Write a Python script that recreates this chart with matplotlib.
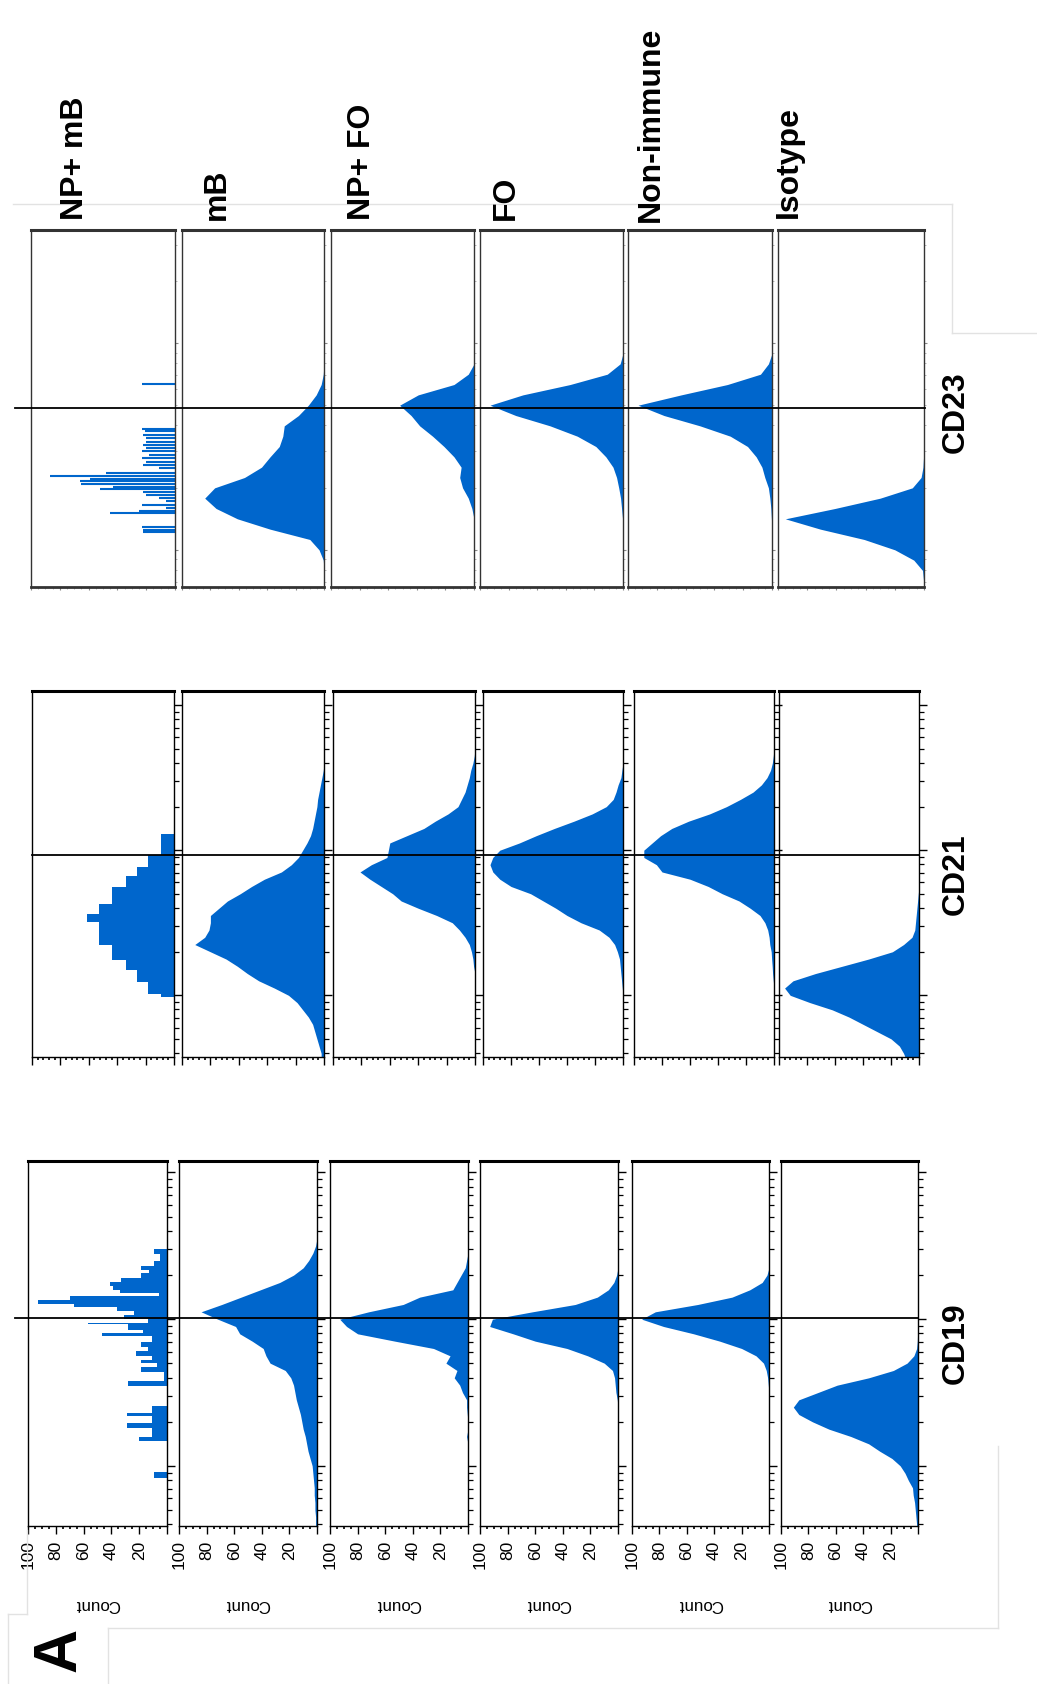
import numpy as np
import matplotlib
matplotlib.use("Agg")
import matplotlib.pyplot as plt
from matplotlib.lines import Line2D
from matplotlib.ticker import MultipleLocator, LogLocator, NullFormatter
from matplotlib.transforms import blended_transform_factory

plt.rcParams["font.family"] = ["Liberation Sans", "DejaVu Sans"]

BLUE = "#0066cc"
W, H = 1037, 1684

populations = ["NP+ mB", "mB", "NP+ FO", "FO", "Non-immune", "Isotype"]
markers = ["CD23", "CD21", "CD19"]

# log10 fluorescence bin centres (per row)
bins_cd19 = np.round(np.arange(1.55, 4.101, 0.05), 2)
bins_cd21 = np.round(np.arange(1.55, 4.101, 0.05), 2)
bins_cd23 = np.round(np.arange(1.80, 3.551, 0.05), 2)

# gate (threshold) per marker, fluorescence units
gate_cd19 = 1020
gate_cd21 = 930
gate_cd23 = 485

# ---- CD19 counts (start at bins_cd19[0]) ----
cd19_npmb_edges = [1.916, 1.957, 2.169, 2.198, 2.260, 2.289, 2.337, 2.361, 2.410, 2.542,
                   2.578, 2.639, 2.675, 2.699, 2.723, 2.747, 2.783, 2.807, 2.843, 2.884,
                   2.904, 2.928, 2.964, 2.976, 3.000, 3.031, 3.055, 3.084, 3.104, 3.128,
                   3.161, 3.181, 3.200, 3.229, 3.253, 3.282, 3.313, 3.337, 3.361, 3.393,
                   3.446, 3.475]
cd19_npmb = [9, 0, 20, 11, 29, 11, 29, 11, 0, 28,
             2, 19, 7, 19, 11, 22, 14, 19, 11, 47,
             17, 28, 57, 14, 31, 24, 36, 67, 93, 70,
             6, 34, 39, 41, 33, 19, 13, 19, 9, 5, 9]
cd19_mb = [1, 1, 1, 1.5, 1.5, 2, 2, 2.5, 3, 3.5, 5, 6.5, 7.5, 8.5, 10, 11, 12, 13.5, 15, 16,
           17, 19, 23, 34, 37, 39, 47, 56, 59, 72, 84, 69, 55, 41, 27, 17, 10, 6, 3, 1]
cd19_npfo = [0] * 13 + [1, 0, 0, 0.5, 1, 1, 4, 6, 10, 8, 16, 13, 25, 53, 80, 88, 93, 72, 47,
                        35, 11, 8, 5, 2, 1]
cd19_fo = [0] * 17 + [0, 0.5, 1.5, 2, 2.5, 4, 10, 22, 37, 60, 76, 93, 91, 62, 31, 15, 7, 3, 1]
cd19_nonimm = [0] * 19 + [0, 0.5, 1, 2, 4, 9.5, 20, 36, 55, 77, 93, 83, 52, 27, 14, 5, 1.5]
cd19_iso = [1, 1, 1.5, 2, 2.5, 3.5, 4, 7, 9.5, 13, 19, 28, 36, 49, 65, 77, 87, 91, 87, 73,
            59, 36, 18, 8, 3, 1, 0.5, 0.3, 0.3, 0.3]

# ---- CD21 counts ----
cd21_npmb_edges = [1.99, 2.011, 2.092, 2.172, 2.246, 2.345, 2.506, 2.563, 2.632, 2.747,
                   2.821, 2.885, 2.969, 3.110]
cd21_npmb = [9, 18, 26, 34, 44, 53, 61, 53, 44, 34, 26, 18, 9]
cd21_mb = [2, 2, 3.5, 5, 6.5, 8, 11, 15, 19, 25, 35, 46, 54, 61, 69, 80, 91, 84, 81, 80,
           80, 74, 68, 59, 51, 42, 30, 23, 18, 15, 12, 9.5, 8, 7, 6, 5, 4.5, 3.5, 2.5, 1.5, 0.5]
cd21_npfo = [0] * 13 + [1, 1.5, 2.5, 4, 7, 11, 16, 27, 40, 52, 58, 66, 74, 81, 73, 62, 61,
                        60, 48, 36, 28, 19, 12, 9.5, 7, 5.5, 4, 3, 1.5, 0.5]
cd21_fo = [0] * 10 + [0.5, 1, 1.5, 2, 2.5, 4, 6, 10, 17, 30, 40, 48, 57, 66, 80, 88, 93, 95,
                      93, 88, 74, 62, 49, 35, 22, 12, 7, 5, 3.5, 1.5, 0.8]
cd21_nonimm = [0] * 11 + [0.5, 1, 1.3, 1.7, 2, 3, 3.5, 4.5, 6.5, 10, 17, 25, 37, 47, 60, 80,
                          84, 93, 93, 87, 81, 73, 61, 46, 34, 24, 15, 9, 5, 2.5, 1.2, 0.5]
cd21_iso = [9, 11, 14, 20, 30, 40, 50, 62, 78, 92, 96, 90, 74, 55, 36, 19, 11, 5, 3, 2.5,
            2, 1.5, 1, 0.5]

# ---- CD23 counts ----
cd23_npmb_pos = [2.085, 2.097, 2.110, 2.176, 2.187, 2.203, 2.219, 2.234, 2.250, 2.265,
                 2.279, 2.294, 2.306, 2.319, 2.332, 2.345, 2.358, 2.371, 2.394, 2.411,
                 2.426, 2.442, 2.460, 2.476, 2.492, 2.508, 2.524, 2.542, 2.558, 2.573,
                 2.587, 2.802]
cd23_npmb = [22, 22, 23, 45, 25, 6, 23, 6, 11, 20,
             22, 52, 43, 65, 66, 59, 87, 48, 11, 22,
             20, 23, 18, 23, 20, 22, 20, 20, 22, 21,
             23, 23]
cd23_mb = [0, 0, 0, 0.5, 3.5, 10, 38, 61, 76, 84, 77, 56, 44, 38, 31.5, 29, 28, 18, 11, 5.5,
           2, 0.5]
cd23_npfo = [0] * 8 + [1.5, 4, 8, 10, 9, 14, 21, 29, 38, 44, 52, 39, 14, 4]
cd23_fo = [0] * 7 + [0.3, 1, 1.7, 3, 4.5, 7, 12, 19, 32, 51, 75, 93, 70, 37, 11, 2]
cd23_nonimm = [0] * 7 + [0.4, 0.8, 1.5, 2.5, 5, 7, 11, 17, 29, 50, 75, 93, 63, 31, 8, 2.5]
cd23_iso = [0, 0.3, 1, 7, 20, 41, 71, 95, 61, 30, 8, 2, 0.7, 0.3]

# ---- layout (pixels in the 1037x1684 picture) ----
rows = {
    "CD23": dict(top=230, bottom=587, ylim=(1.82, 3.548), gate=gate_cd23, bins=bins_cd23,
                 xs=[(31, 175), (182, 324), (331, 474), (480, 623), (628, 772), (778, 924)],
                 line=(15, 925), label_y=412, style="light",
                 data=[None, cd23_mb, cd23_npfo, cd23_fo, cd23_nonimm, cd23_iso]),
    "CD21": dict(top=691, bottom=1057, ylim=(1.575, 4.097), gate=gate_cd21, bins=bins_cd21,
                 xs=[(32, 174), (182, 324), (333, 475), (483, 623), (634, 774), (779, 919)],
                 line=(32, 919), label_y=874, style="mid",
                 data=[None, cd21_mb, cd21_npfo, cd21_fo, cd21_nonimm, cd21_iso]),
    "CD19": dict(top=1161, bottom=1526, ylim=(1.59, 4.078), gate=gate_cd19, bins=bins_cd19,
                 xs=[(28, 167), (179, 317), (330, 468), (480, 618), (632, 769), (781, 918)],
                 line=(15, 918), label_y=1343, style="full",
                 data=[None, cd19_mb, cd19_npfo, cd19_fo, cd19_nonimm, cd19_iso]),
}

fig = plt.figure(figsize=(W / 100, H / 100), dpi=100)
fig.patch.set_facecolor("white")


def px_axes(x0, y0, x1, y1):
    return fig.add_axes([x0 / W, 1 - y1 / H, (x1 - x0) / W, (y1 - y0) / H])


def fig_line(x0, y0, x1, y1, **kw):
    fig.add_artist(Line2D([x0 / W, x1 / W], [1 - y0 / H, 1 - y1 / H],
                          transform=fig.transFigure, **kw))


for marker in markers:
    r = rows[marker]
    axes = []
    for i, (x0, x1) in enumerate(r["xs"]):
        ax = px_axes(x0, r["top"], x1, r["bottom"])
        axes.append(ax)
        ax.set_yscale("log")
        ax.set_xlim(100, 0)
        ax.set_ylim(10 ** r["ylim"][0], 10 ** r["ylim"][1])

        vals = r["data"][i]
        if vals is not None:
            c = np.zeros(len(r["bins"]))
            c[:len(vals)] = vals
            ax.fill_betweenx(10 ** r["bins"], c, 0, color=BLUE, lw=0)
        elif marker == "CD19":
            ax.stairs(cd19_npmb, 10 ** np.array(cd19_npmb_edges), orientation="horizontal",
                      fill=True, color=BLUE, baseline=0)
        elif marker == "CD21":
            ax.stairs(cd21_npmb, 10 ** np.array(cd21_npmb_edges), orientation="horizontal",
                      fill=True, color=BLUE, baseline=0)
        else:
            ax.hlines(10 ** np.array(cd23_npmb_pos), 0, cd23_npmb, color=BLUE, lw=1.5)

        # fluorescence axis on the right
        ax.yaxis.tick_right()
        ax.yaxis.set_major_locator(LogLocator(base=10, numticks=20))
        ax.yaxis.set_minor_locator(LogLocator(base=10, subs=np.arange(2, 10), numticks=20))
        ax.yaxis.set_major_formatter(NullFormatter())
        ax.yaxis.set_minor_formatter(NullFormatter())

        # count axis at the bottom
        ax.xaxis.set_major_locator(MultipleLocator(20))
        ax.xaxis.set_minor_locator(MultipleLocator(4 if marker == "CD21" else 5))

        for s in ax.spines.values():
            s.set_linewidth(1.0)
        ax.spines["top"].set_linewidth(2.2)

        if r["style"] == "light":
            ax.tick_params(axis="both", which="major", direction="out", length=2.5,
                           width=0.8, color="#888888")
            ax.tick_params(axis="both", which="minor", direction="out", length=1.5,
                           width=0.6, color="#aaaaaa")
            ax.tick_params(axis="x", labelbottom=False)
            for s in ax.spines.values():
                s.set_edgecolor("#333333")
            ax.spines["bottom"].set_linewidth(2.0)
        else:
            ax.tick_params(axis="y", which="major", direction="out", length=6, width=1.0)
            ax.tick_params(axis="y", which="minor", direction="out", length=3.5, width=0.9)
            ax.tick_params(axis="x", which="major", direction="out", length=5.8, width=1.0)
            ax.tick_params(axis="x", which="minor", direction="out", length=1.8, width=1.2)
            if r["style"] == "full":
                ax.set_xticks([0, 20, 40, 60, 80, 100])
                ax.set_xticklabels(["", "20", "40", "60", "80", "100"], rotation=90,
                                   fontsize=12.5)
                ax.tick_params(axis="x", pad=4.5)
                ax.set_xlabel("Count", rotation=180, fontsize=12.2)
                ax.xaxis.set_label_coords(0.5, -(1605 - r["bottom"]) / (r["bottom"] - r["top"]))
                ax.xaxis.label.set_va("center")
            else:
                ax.tick_params(axis="x", labelbottom=False)
        ax.set_facecolor("none")

    # gate line across the row
    trans = blended_transform_factory(fig.transFigure, axes[0].transData)
    fig.add_artist(Line2D([r["line"][0] / W, r["line"][1] / W], [r["gate"], r["gate"]],
                          transform=trans, color="black", lw=1.3, zorder=5))

    fig.text(956 / W, 1 - r["label_y"] / H, marker, rotation=90, ha="center", va="center",
             fontsize=23, fontweight="bold")

# population headers above the top row
header_x = [83, 225, 370, 514, 659, 797]
header_y = [220, 220, 220, 220, 222, 218]
for name, hx, hy in zip(populations, header_x, header_y):
    fig.text(hx / W, 1 - hy / H, name, rotation=90, rotation_mode="anchor",
             ha="left", va="baseline", fontsize=23, fontweight="bold")

fig.text(60 / W, 1 - 1650 / H, "A", rotation=90, ha="center", va="center",
         fontsize=44, fontweight="bold")

# faint frame remnants
faint = dict(color="#e2e2e2", lw=1.0)
fig_line(13, 204, 952, 204, **faint)
fig_line(952, 204, 952, 333, **faint)
fig_line(952, 333, 1037, 333, **faint)
fig_line(108, 1628, 998, 1628, **faint)
fig_line(998, 1628, 998, 1446, **faint)
fig_line(108, 1628, 108, 1684, **faint)
fig_line(27, 1530, 27, 1614, **faint)
fig_line(8, 1614, 27, 1614, **faint)
fig_line(8, 1614, 8, 1684, **faint)

fig.savefig("out.png", dpi=100)
